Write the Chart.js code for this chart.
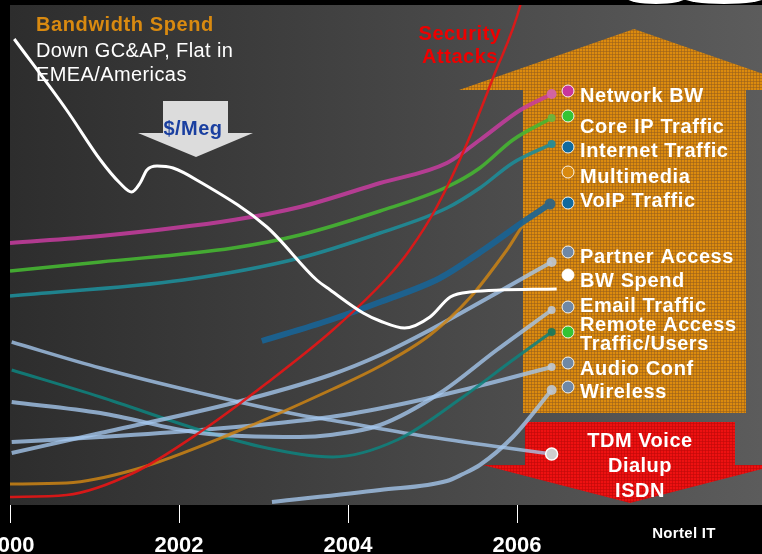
<!DOCTYPE html>
<html><head><meta charset="utf-8">
<script src="https://cdn.jsdelivr.net/npm/chart.js@4.4.1/dist/chart.umd.min.js"></script>
<style>html,body{margin:0;padding:0;background:#000;overflow:hidden}canvas{display:block}</style>
</head><body>
<canvas id="c" width="762" height="554"></canvas>
<script>
// ---------- DATA (year, relative level 0-100) ----------
const tickYears = [2000, 2002, 2004, 2006];

const bwSpend = [[2000.05,93.2],[2000.67,79.0],[2001.07,69.0],[2001.30,64.4],[2001.44,62.6],[2001.54,64.4],[2001.62,67.0],[2001.74,67.8],[2001.93,67.4],[2002.25,64.6],[2003.04,55.6],[2003.63,45.0],[2003.79,43.0],[2004.18,38.4],[2004.38,36.8],[2004.67,35.4],[2004.97,37.6],[2005.21,41.6],[2005.44,42.6],[2006.47,43.2]];
const networkBW = [[2000.00,52.4],[2001.07,53.8],[2002.64,57.0],[2003.43,59.6],[2004.38,64.4],[2005.17,68.4],[2005.56,73.0],[2006.04,79.0],[2006.41,82.2]];
const coreIP = [[2000.00,46.8],[2001.07,48.6],[2002.64,51.4],[2003.43,54.0],[2004.38,58.8],[2005.17,63.6],[2005.56,67.4],[2005.95,73.0],[2006.41,77.4]];
const internetTraffic = [[2000.00,41.8],[2002.05,45.0],[2003.43,49.4],[2004.38,54.4],[2005.17,59.4],[2005.56,63.4],[2005.95,68.4],[2006.41,72.2]];
const multimedia = [[2000.00,4.2],[2000.67,4.4],[2001.46,7.0],[2002.64,14.4],[2003.82,23.2],[2004.38,27.8],[2004.97,34.0],[2005.44,41.4],[2005.88,51.0],[2006.12,57.0],[2006.37,59.8]];
const voipTraffic = [[2002.98,32.8],[2003.79,37.0],[2004.38,40.6],[2005.09,45.4],[2005.62,51.2],[2006.07,56.6],[2006.39,60.2]];
const securityAttacks = [[2000.00,1.6],[2000.67,2.0],[2001.46,6.4],[2002.25,14.6],[2003.04,24.4],[2003.82,35.0],[2004.46,45.4],[2004.73,51.0],[2005.05,59.6],[2005.41,72.4],[2005.72,85.6],[2006.04,100.0],[2006.18,111.0]];
const partnerAccess = [[2000.02,10.4],[2001.07,14.4],[2002.64,20.4],[2003.79,26.0],[2004.38,30.0],[2004.97,35.0],[2005.76,42.4],[2006.41,48.6]];
const emailTraffic = [[2000.02,20.6],[2001.07,18.4],[2002.25,14.4],[2003.43,13.6],[2003.79,14.0],[2004.38,16.0],[2005.09,22.4],[2005.76,31.0],[2006.41,39.0]];
const remoteAccess = [[2000.02,27.0],[2001.07,21.6],[2002.25,15.0],[2003.04,11.4],[2003.82,9.6],[2004.58,13.0],[2005.36,21.6],[2005.95,29.0],[2006.41,34.6]];
const audioConf = [[2000.02,12.6],[2001.07,13.6],[2002.25,15.0],[2003.79,17.6],[2004.58,20.0],[2005.36,23.0],[2006.41,27.6]];
const wireless = [[2003.10,0.6],[2004.38,3.0],[2005.17,4.8],[2005.36,6.2],[2005.56,8.0],[2005.95,13.6],[2006.41,23.0]];
const tdmVoice = [[2000.02,32.6],[2001.07,27.4],[2002.25,22.4],[2003.43,18.0],[2003.79,17.0],[2004.97,13.6],[2006.41,10.2]];

const legendLabels = ['Network BW','Core IP Traffic','Internet Traffic','Multimedia','VoIP Traffic','Partner Access','BW Spend','Email Traffic','Remote Access\nTraffic/Users','Audio Conf','Wireless'];
const legendColors = ['#c8369c','#34c434','#106a9e','#d98a10','#106a9e','#6f88a6','#ffffff','#6f88a6','#34c434','#6f88a6','#6f88a6'];

// ---------- LAYOUT / STYLE ----------
const legendDotY = [91,116,147,172,203,252,275,307,332,363,387];
const legendTextY = [[102],[133],[157],[183],[207],[263],[287],[312],[331,350],[375],[398]];
const FONT = '"Liberation Sans", Arial, sans-serif';

function pattern(base, line) {
  const p = document.createElement('canvas'); p.width = 3; p.height = 3;
  const g = p.getContext('2d');
  g.fillStyle = base; g.fillRect(0,0,3,3);
  g.fillStyle = line; g.fillRect(0,0,3,1); g.fillRect(0,0,1,3);
  return document.getElementById('c').getContext('2d').createPattern(p,'repeat');
}

function ds(data, color, width, endColor, endR, endBorder) {
  return {
    data: data.map(([x,y]) => ({x, y})),
    borderColor: color,
    borderWidth: width,
    cubicInterpolationMode: 'monotone',
    fill: false,
    pointRadius: c => c.dataIndex === data.length - 1 ? endR : 0,
    pointHoverRadius: 0,
    pointBackgroundColor: endColor,
    pointBorderColor: endBorder || endColor,
    pointBorderWidth: endBorder ? 1.5 : 0
  };
}
const LB = 'rgba(165,200,238,0.78)';
const LBend = 'rgba(190,200,212,0.9)';

const datasets = [
  ds(bwSpend, '#ffffff', 3, '#fff', 0),
  ds(securityAttacks, 'rgba(228,22,22,0.92)', 2.5, '#f00', 0),
  ds(networkBW, 'rgba(200,60,160,0.85)', 4, 'rgba(210,100,170,0.95)', 5),
  ds(coreIP, 'rgba(70,182,50,0.9)', 3.5, 'rgba(110,180,60,0.95)', 4),
  ds(internetTraffic, 'rgba(30,140,152,0.9)', 3.5, 'rgba(40,140,150,0.95)', 4),
  ds(voipTraffic, 'rgba(24,100,150,0.9)', 6, 'rgba(50,100,130,0.95)', 5.5),
  ds(multimedia, 'rgba(205,132,20,0.85)', 3, 'rgba(205,132,20,0.85)', 0),
  ds(partnerAccess, LB, 4, LBend, 5),
  ds(emailTraffic, LB, 4, LBend, 4),
  ds(remoteAccess, 'rgba(15,130,125,0.88)', 3, 'rgba(30,120,90,0.95)', 4),
  ds(audioConf, LB, 4, LBend, 4),
  ds(wireless, LB, 4, LBend, 5),
  ds(tdmVoice, LB, 3.5, '#cfcfcf', 6, '#ffffff')
];

const background = {
  id: 'background',
  beforeDraw(chart) {
    const {ctx, chartArea: a} = chart;
    ctx.save();
    ctx.fillStyle = '#000'; ctx.fillRect(0,0,chart.width,chart.height);
    ctx.fillStyle = '#fff';
    ctx.beginPath(); ctx.ellipse(656,-2,29,6,0,0,Math.PI*2); ctx.fill();
    ctx.beginPath(); ctx.ellipse(724,-2,40,6,0,0,Math.PI*2); ctx.fill();
    const g = ctx.createLinearGradient(a.left,0,a.right,0);
    g.addColorStop(0,'#2d2d2d'); g.addColorStop(1,'#5c5c5c');
    ctx.fillStyle = g; ctx.fillRect(a.left,a.top,a.right-a.left,a.bottom-a.top);
    const poly = (pts, fill) => { ctx.beginPath(); pts.forEach(([x,y],i)=> i?ctx.lineTo(x,y):ctx.moveTo(x,y)); ctx.closePath(); ctx.fillStyle = fill; ctx.fill(); };
    ctx.save(); ctx.beginPath(); ctx.rect(a.left,a.top,a.right-a.left,a.bottom-a.top); ctx.clip();
    poly([[523,413],[523,90],[459,90],[634,29],[809,90],[746,90],[746,413]], pattern('#dc8b0e','rgba(150,95,30,0.55)'));
    poly([[525,422],[735,422],[735,465],[777,465],[630,503],[483,465],[525,465]], pattern('#ee1111','rgba(190,10,10,0.6)'));
    poly([[163,101],[228,101],[228,133],[253,133],[196,157],[138,133],[163,133]], '#dcdcdc');
    ctx.restore();
    ctx.restore();
  }
};

function txt(ctx, s, x, y, font, color, align, spacing) {
  ctx.font = font; ctx.fillStyle = color; ctx.textAlign = align || 'left'; ctx.textBaseline = 'alphabetic';
  ctx.letterSpacing = spacing || '0px';
  ctx.fillText(s, x, y);
}

const annotations = {
  id: 'annotations',
  afterDatasetsDraw(chart) {
    const ctx = chart.ctx;
    ctx.save();
    const B = 'bold 20px ' + FONT, R = '20px ' + FONT;
    txt(ctx, 'Bandwidth Spend', 36, 31, B, '#d98a10', 'left', '0.6px');
    txt(ctx, 'Down GC&AP, Flat in', 36, 57, R, '#ffffff', 'left', '0.4px');
    txt(ctx, 'EMEA/Americas', 36, 81, R, '#ffffff', 'left', '0.4px');
    txt(ctx, '$/Meg', 193, 135, B, '#1a3fa0', 'center', '0.5px');
    txt(ctx, 'Security', 460, 40, B, '#ee0000', 'center', '0.5px');
    txt(ctx, 'Attacks', 460, 63, B, '#ee0000', 'center', '0.5px');
    txt(ctx, 'TDM Voice', 640, 447, B, '#ffffff', 'center', '0.5px');
    txt(ctx, 'Dialup', 640, 472, B, '#ffffff', 'center', '0.5px');
    txt(ctx, 'ISDN', 640, 497, B, '#ffffff', 'center', '0.5px');
    txt(ctx, 'Nortel IT', 684, 538, 'bold 15px ' + FONT, '#ffffff', 'center', '0.3px');
    legendLabels.forEach((lab, i) => {
      ctx.beginPath(); ctx.arc(568, legendDotY[i], 6, 0, Math.PI*2);
      ctx.fillStyle = legendColors[i]; ctx.fill();
      ctx.lineWidth = 1; ctx.strokeStyle = 'rgba(255,255,255,0.9)'; ctx.stroke();
      lab.split('\n').forEach((line, j) => txt(ctx, line, 580, legendTextY[i][j], B, '#ffffff', 'left', '0.6px'));
    });
    ctx.restore();
  }
};

new Chart(document.getElementById('c'), {
  type: 'line',
  data: { datasets },
  options: {
    responsive: false, animation: false, devicePixelRatio: 1,
    layout: { autoPadding: false, padding: { left: 10, top: 5, right: 0, bottom: 0 } },
    plugins: { legend: { display: false }, tooltip: { enabled: false } },
    scales: {
      x: {
        type: 'linear', min: 2000, max: 2000 + 752 / 84.5,
        afterBuildTicks: s => { s.ticks = tickYears.map(v => ({ value: v })); },
        afterFit: s => { s.height = 49; s.paddingLeft = 0; s.paddingRight = 0; },
        ticks: { color: '#ffffff', font: { family: FONT, size: 22, weight: 'bold' }, padding: 10, maxRotation: 0, autoSkip: false, callback: v => String(v) },
        grid: { drawOnChartArea: false, drawTicks: true, tickLength: 18, color: '#ffffff', lineWidth: 1 },
        border: { display: false }
      },
      y: { display: false, min: 0, max: 100 }
    }
  },
  plugins: [background, annotations]
});
</script>
</body></html>
